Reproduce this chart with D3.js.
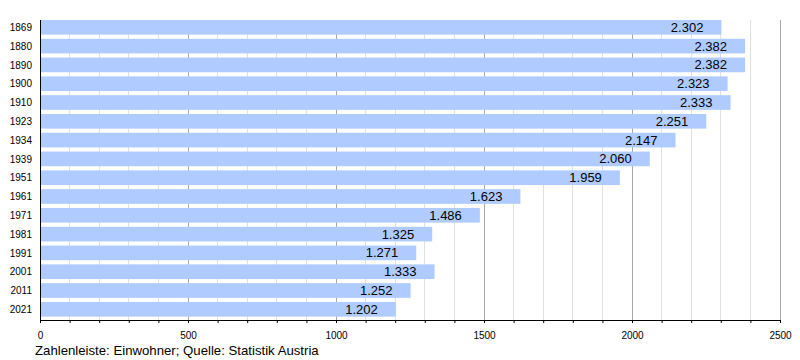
<!DOCTYPE html>
<html><head><meta charset="utf-8">
<script src="https://cdn.jsdelivr.net/npm/d3@7"></script>
<style>body{margin:0;background:#fff}svg{display:block;font-family:"Liberation Sans",Arial,sans-serif}</style>
</head><body>
<svg id="c" width="800" height="360"></svg>
<script>
const years = ["1869","1880","1890","1900","1910","1923","1934","1939","1951","1961","1971","1981","1991","2001","2011","2021"];
const population = [2302,2382,2382,2323,2333,2251,2147,2060,1959,1623,1486,1325,1271,1333,1252,1202];
const majorTicks = [0,500,1000,1500,2000,2500];
const caption = "Zahlenleiste: Einwohner; Quelle: Statistik Austria";

const svg = d3.select("#c");
const x = d3.scaleLinear().domain([0,2500]).range([40,780]);
const y = d3.scaleBand().domain(years).range([17.9,318.7]).paddingInner(0.22).paddingOuter(0.11);
const plotTop = 20, plotBottom = 320;
const minor = d3.range(0,2501,100);

svg.append("g").selectAll("line").data(minor.filter(v=>v%500!==0)).join("line")
  .attr("x1",d=>x(d)).attr("x2",d=>x(d)).attr("y1",plotTop).attr("y2",plotBottom)
  .attr("stroke","#e0e0e0").attr("stroke-width",1).attr("shape-rendering","crispEdges");
svg.append("g").selectAll("line").data(majorTicks.filter(v=>v>0)).join("line")
  .attr("x1",d=>x(d)).attr("x2",d=>x(d)).attr("y1",plotTop).attr("y2",plotBottom)
  .attr("stroke","#a8a8a8").attr("stroke-width",1).attr("shape-rendering","crispEdges");

svg.append("g").selectAll("rect").data(years).join("rect")
  .attr("x",x(0)).attr("y",d=>y(d)).attr("height",y.bandwidth())
  .attr("width",(d,i)=>x(population[i])-x(0)).attr("fill","#b0cbff");

const fmt = v => d3.format(",")(v).replace(/,/g,".");
svg.append("g").selectAll("text").data(years).join("text")
  .attr("x",(d,i)=>x(population[i])-18).attr("y",d=>y(d)+y.bandwidth()/2+4.5)
  .attr("text-anchor","end").attr("font-size",13).attr("fill","#000")
  .text((d,i)=>fmt(population[i]));

svg.append("g").selectAll("text").data(years).join("text")
  .attr("x",32).attr("y",d=>y(d)+y.bandwidth()/2+3.6)
  .attr("text-anchor","end").attr("font-size",10).attr("fill","#000").text(d=>d);

// axes
const xAxis = d3.axisBottom(x).tickValues(minor).tickSize(3)
  .tickFormat(d=>majorTicks.includes(d)?d:"");
const gx = svg.append("g").attr("transform",`translate(0,${plotBottom})`).call(xAxis);
gx.select(".domain").attr("d",`M${x(0)},0.5H${x(2500)}`).attr("stroke","#000");
gx.selectAll(".tick line").attr("stroke","#000");
gx.selectAll(".tick text").attr("font-size",10).attr("font-family","Liberation Sans, Arial, sans-serif").attr("fill","#000").attr("dy","1.25em");
svg.append("line").attr("x1",x(0)).attr("x2",x(0)).attr("y1",plotTop).attr("y2",plotBottom+3)
  .attr("stroke","#000").attr("shape-rendering","crispEdges");

svg.append("text").attr("x",35).attr("y",355).attr("font-size",13.2).attr("fill","#000").text(caption);
</script>
</body></html>
